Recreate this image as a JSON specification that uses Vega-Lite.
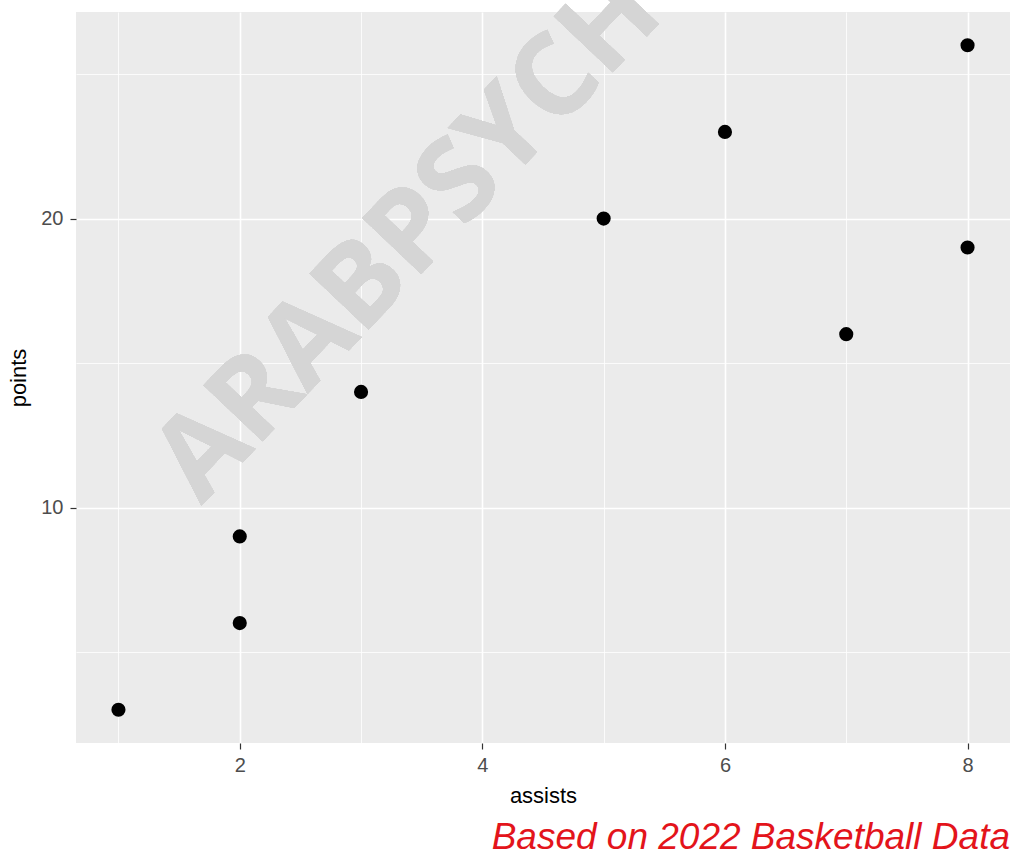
{
  "$schema": "https://vega.github.io/schema/vega-lite/v6.json",
  "width": 934,
  "height": 731,
  "autosize": {"type": "none"},
  "padding": {"left": 76, "top": 12, "right": 3, "bottom": 112},
  "background": "white",
  "config": {
    "font": "Liberation Sans",
    "view": {"fill": "#ebebeb", "stroke": null},
    "axis": {
      "domain": false,
      "gridColor": "white",
      "gridWidth": 1.6,
      "tickColor": "#333333",
      "tickSize": 6,
      "tickWidth": 1.2,
      "labelColor": "#4d4d4d",
      "labelFontSize": 20,
      "labelPadding": 7,
      "titleFontSize": 22,
      "titleFontWeight": "normal",
      "titleColor": "#000000"
    }
  },
  "title": {
    "text": "Based on 2022 Basketball Data",
    "orient": "bottom",
    "anchor": "end",
    "frame": "group",
    "fontSize": 37,
    "fontStyle": "italic",
    "fontWeight": "normal",
    "color": "#e3141b",
    "offset": 14
  },
  "datasets": {
    "players": [
      {"assists": 1, "points": 3},
      {"assists": 2, "points": 6},
      {"assists": 2, "points": 9},
      {"assists": 3, "points": 14},
      {"assists": 5, "points": 20},
      {"assists": 6, "points": 23},
      {"assists": 7, "points": 16},
      {"assists": 8, "points": 19},
      {"assists": 8, "points": 26}
    ]
  },
  "data": {"name": "players"},
  "layer": [
    {
      "mark": {"type": "point", "opacity": 0},
      "encoding": {
        "x": {
          "field": "assists",
          "type": "quantitative",
          "scale": {"domain": [0.65, 8.35], "nice": false, "zero": false},
          "axis": {"orient": "bottom", "values": [1, 3, 5, 7], "grid": true, "gridWidth": 0.8, "labels": false, "ticks": false, "title": null}
        },
        "y": {
          "field": "points",
          "type": "quantitative",
          "scale": {"domain": [1.85, 27.15], "nice": false, "zero": false},
          "axis": {"orient": "left", "values": [5, 15, 25], "grid": true, "gridWidth": 0.8, "labels": false, "ticks": false, "title": null}
        }
      }
    },
    {
      "mark": {
        "type": "text",
        "text": "ARABPSYCH",
        "font": "Open Sans",
        "fontWeight": "bold",
        "fontSize": 114,
        "angle": -46.5,
        "align": "center",
        "baseline": "middle",
        "color": "#d5d5d5",
        "clip": false
      },
      "encoding": {
        "x": {"datum": 3.395, "type": "quantitative", "axis": null},
        "y": {"datum": 19.34, "type": "quantitative", "axis": null}
      }
    },
    {
      "mark": {
        "type": "point",
        "filled": true,
        "size": 200,
        "color": "black",
        "opacity": 1
      },
      "encoding": {
        "x": {
          "field": "assists",
          "type": "quantitative",
          "title": "assists",
          "scale": {"domain": [0.65, 8.35], "nice": false, "zero": false},
          "axis": {"orient": "bottom", "values": [2, 4, 6, 8], "grid": true, "labelPadding": 6, "titlePadding": 10}
        },
        "y": {
          "field": "points",
          "type": "quantitative",
          "title": "points",
          "scale": {"domain": [1.85, 27.15], "nice": false, "zero": false},
          "axis": {"orient": "left", "values": [10, 20], "grid": true, "titlePadding": 10}
        }
      }
    }
  ],
  "resolve": {"axis": {"x": "independent", "y": "independent"}}
}
